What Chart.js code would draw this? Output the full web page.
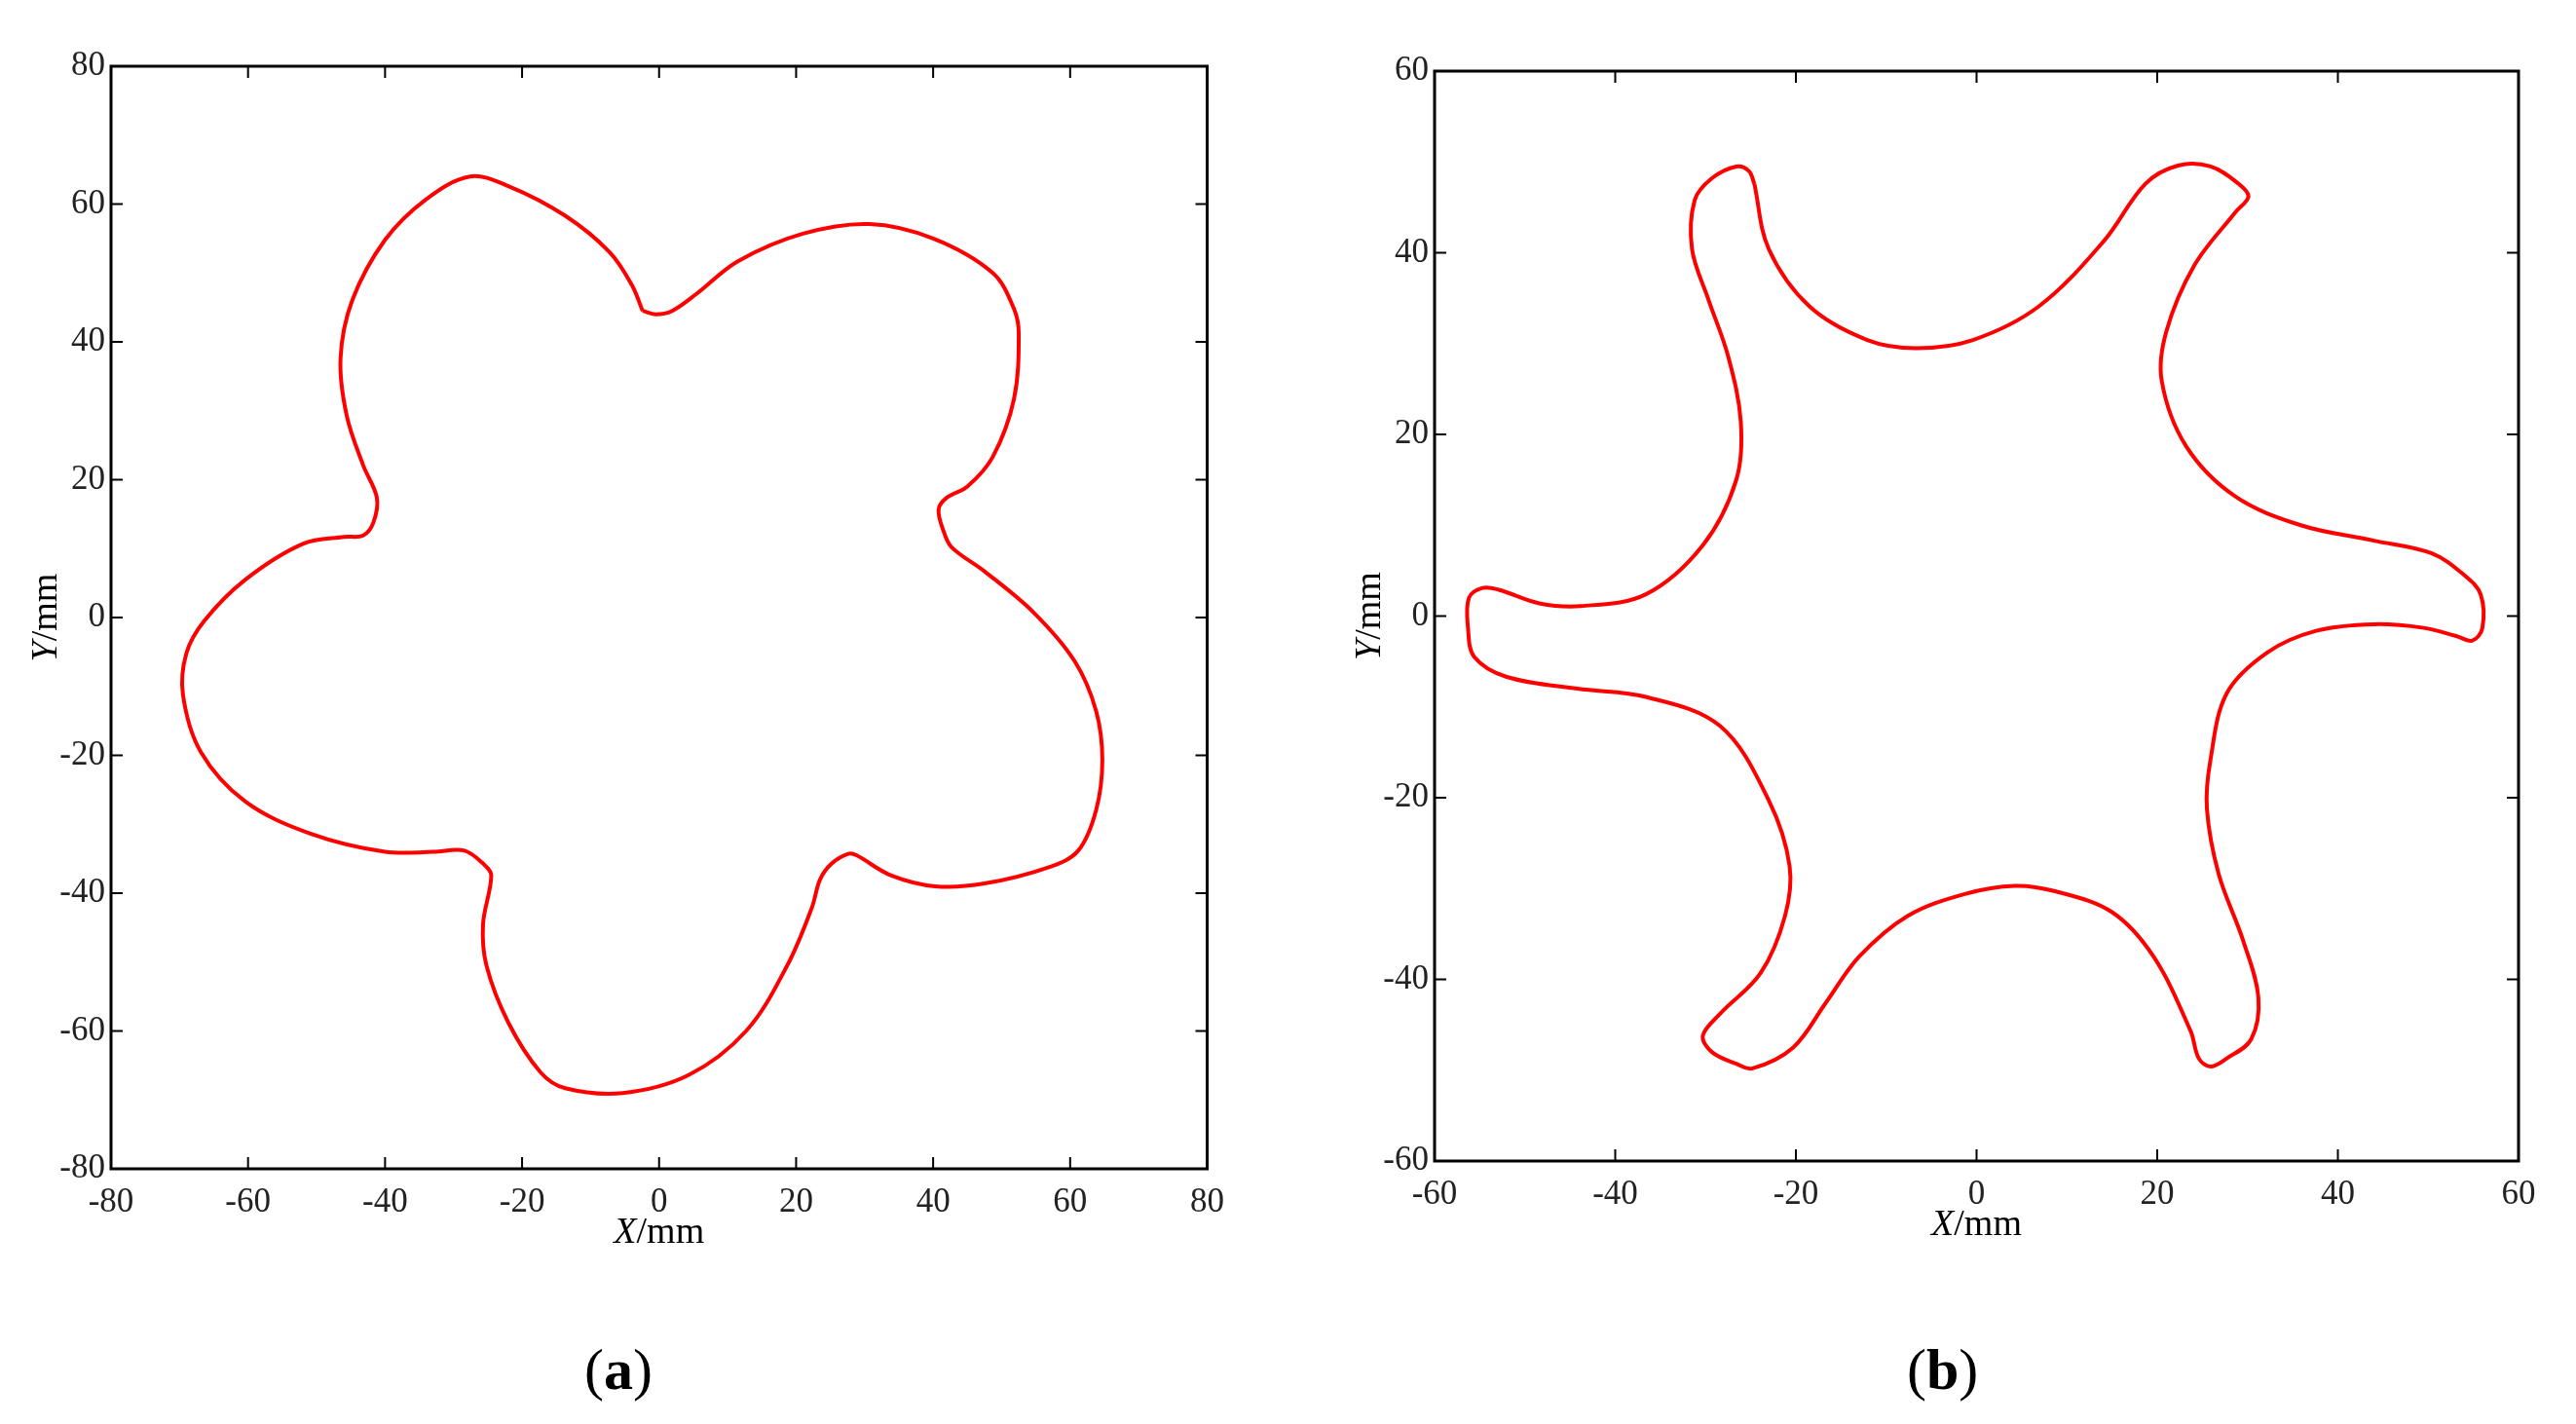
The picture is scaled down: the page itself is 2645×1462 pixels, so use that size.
<!DOCTYPE html>
<html>
<head>
<meta charset="utf-8">
<script src="https://cdn.jsdelivr.net/npm/chart.js@4.4.1/dist/chart.umd.min.js"></script>
<style>
  body { margin: 0; background: #fff; width: 2645px; height: 1462px; position: relative; overflow: hidden; }
  .box { position: absolute; }
  .lbl { position: absolute; font-family: "Liberation Serif", serif; font-size: 60px; top: 1372px; }
</style>
</head>
<body>
<div class="box" id="boxA" style="left:24px;top:41px;width:1247px;height:1249px"><canvas id="chartA"></canvas></div>
<div class="box" id="boxB" style="left:1383px;top:46px;width:1243px;height:1236px"><canvas id="chartB"></canvas></div>
<div class="lbl" style="left:600px">(<b>a</b>)</div>
<div class="lbl" style="left:1958px">(<b>b</b>)</div>
<script>
// panel (a): five-lobed contour, mm
const aX = [-2.4,-0.5,1.9,5.5,11.5,21,30.7,40,48.7,51.8,52.5,51.8,48.7,45,42,40.8,41.5,42.7,47.5,54.7,60.7,63.8,64.7,63.8,61.2,57,47.5,40.3,33.8,28.8,27.6,25.2,23.5,22.3,18.7,12.7,4.3,-5.3,-13.7,-17.3,-22,-25.2,-25.7,-24.5,-25.7,-28.5,-32.9,-40,-50.8,-60.4,-66.9,-69.5,-69,-66.4,-60.4,-52,-46,-43.2,-41.7,-41.2,-43.2,-45.6,-46.5,-44.8,-40,-34,-27.6,-22,-13.7,-7.2,-4,-2.4];
const aY = [44.5,44,44.5,47,51.7,55.7,57.1,55,50,44.8,41.2,31.7,23.3,19,17.4,15.7,12.6,10.2,6.7,0.7,-6.4,-13.6,-20.7,-27.9,-33.8,-36.2,-38.6,-39,-37.4,-34.5,-34.3,-35.7,-38,-42.1,-50.5,-60,-66.4,-69,-68.3,-66,-58.8,-50.5,-44.5,-37.4,-35.7,-33.8,-34,-34,-31.4,-26.7,-19.5,-11.2,-5.2,-0.5,5.5,10.7,11.7,11.9,13.8,17.4,22.1,29.3,37.6,46,54.8,60.7,64,62.6,58.3,53,48.3,44.5];
// panel (b): six-armed contour, mm
const bX = [-24.6,-23,-18.5,-12.1,-6.7,-0.4,6.9,14.1,18.7,22.3,25.9,29,30.1,28.6,24.1,21,20.5,23.2,28.6,35.9,44,50.4,54,55.8,56,54.9,53.1,49.5,44,37.7,32.2,27.7,25.9,25.5,26.8,29.5,31.2,30.4,27.7,25.9,24.6,23.7,19.6,15,8.7,4.2,-1.3,-7.6,-13,-16.7,-20.3,-24.8,-26.6,-29.3,-30.3,-28.4,-23.9,-21.2,-20.7,-23,-28.4,-36.6,-44.2,-52,-55.6,-56.3,-56.2,-54.7,-52.9,-48.4,-43.8,-36.6,-30.3,-26.6,-26.1,-27.5,-29.7,-31.5,-31.2,-29.3,-26.6,-25.2,-24.6];
const bY = [47.6,40.4,34.1,30.4,29.5,30.4,34.1,41.3,47.6,49.6,49.5,47.6,46.2,44.4,38.6,31.3,25.9,18.7,13.2,10,8.3,6.9,4.5,2.4,-1.3,-2.7,-2.2,-1.3,-0.9,-1.6,-4,-8.5,-15.8,-21.2,-28.4,-35.7,-42,-46.6,-48.7,-49.6,-48.7,-45.7,-37.5,-32.6,-30.3,-29.7,-30.6,-33,-37.5,-42.6,-47.5,-49.8,-49.3,-48,-46.2,-43.8,-39.3,-33,-27.5,-20.3,-12.1,-8.9,-8,-6.7,-4.5,-1.3,2,3.1,2.9,1.4,1.1,2.4,7.8,15,21.4,28.6,34.9,40.4,45.8,48.2,49.5,49,47.6];
const aTicks = [-80,-60,-40,-20,0,20,40,60,80];
const bTicks = [-60,-40,-20,0,20,40,60];

const FONT = 'Liberation Serif';

// box, inward ticks on all sides, axis titles with italic letter
const frame = {
  id: 'frame',
  afterDraw(chart) {
    const { ctx, chartArea: a, scales: { x, y } } = chart;
    ctx.save();
    ctx.strokeStyle = '#000';
    ctx.lineWidth = 3;
    ctx.strokeRect(a.left, a.top, a.right - a.left, a.bottom - a.top);
    ctx.lineWidth = 2;
    const L = 12;
    x.ticks.forEach(t => {
      const p = x.getPixelForValue(t.value);
      ctx.beginPath();
      ctx.moveTo(p, a.bottom); ctx.lineTo(p, a.bottom - L);
      ctx.moveTo(p, a.top); ctx.lineTo(p, a.top + L);
      ctx.stroke();
    });
    y.ticks.forEach(t => {
      const p = y.getPixelForValue(t.value);
      ctx.beginPath();
      ctx.moveTo(a.left, p); ctx.lineTo(a.left + L, p);
      ctx.moveTo(a.right, p); ctx.lineTo(a.right - L, p);
      ctx.stroke();
    });
    ctx.fillStyle = '#000';
    ctx.textBaseline = 'middle';
    const drawTitle = (letter, cx, cy) => {
      ctx.font = 'italic 38px ' + FONT;
      const w1 = ctx.measureText(letter).width;
      ctx.font = '38px ' + FONT;
      const w2 = ctx.measureText('/mm').width;
      let sx = cx - (w1 + w2) / 2;
      ctx.font = 'italic 38px ' + FONT;
      ctx.textAlign = 'left';
      ctx.fillText(letter, sx, cy);
      ctx.font = '38px ' + FONT;
      ctx.fillText('/mm', sx + w1, cy);
    };
    drawTitle('X', (a.left + a.right) / 2, a.bottom + 66);
    ctx.save();
    ctx.translate(a.left - 66, (a.top + a.bottom) / 2);
    ctx.rotate(-Math.PI / 2);
    drawTitle('Y', 0, 0);
    ctx.restore();
    ctx.restore();
  }
};

function makeChart(id, xs, ys, ticks, pad) {
  const pts = xs.map((v, i) => ({ x: v, y: ys[i] }));
  const lim = ticks[ticks.length - 1];
  const axis = (pos) => ({
    type: 'linear', position: pos, min: -lim, max: lim,
    afterBuildTicks: s => { s.ticks = ticks.map(v => ({ value: v })); },
    afterFit: s => { if (pos === 'left') s.width = 90; else s.height = 90; },
    grid: { display: false, drawTicks: false },
    border: { display: false },
    ticks: { color: '#222', font: { family: FONT, size: 35 }, padding: pos === 'left' ? 6 : 14, maxRotation: 0 }
  });
  new Chart(document.getElementById(id), {
    type: 'scatter',
    data: { datasets: [{ data: pts, showLine: true, borderColor: '#ff0000', borderWidth: 4, pointRadius: 0, tension: 0.35 }] },
    options: {
      responsive: true, maintainAspectRatio: false, animation: false,
      layout: { padding: { top: 20, right: pad, left: 0, bottom: 0 } },
      plugins: { legend: { display: false }, tooltip: { enabled: false } },
      scales: { x: axis('bottom'), y: axis('left') }
    },
    plugins: [frame]
  });
}

makeChart('chartA', aX, aY, aTicks, 30);
makeChart('chartB', bX, bY, bTicks, 40);
</script>
</body>
</html>
